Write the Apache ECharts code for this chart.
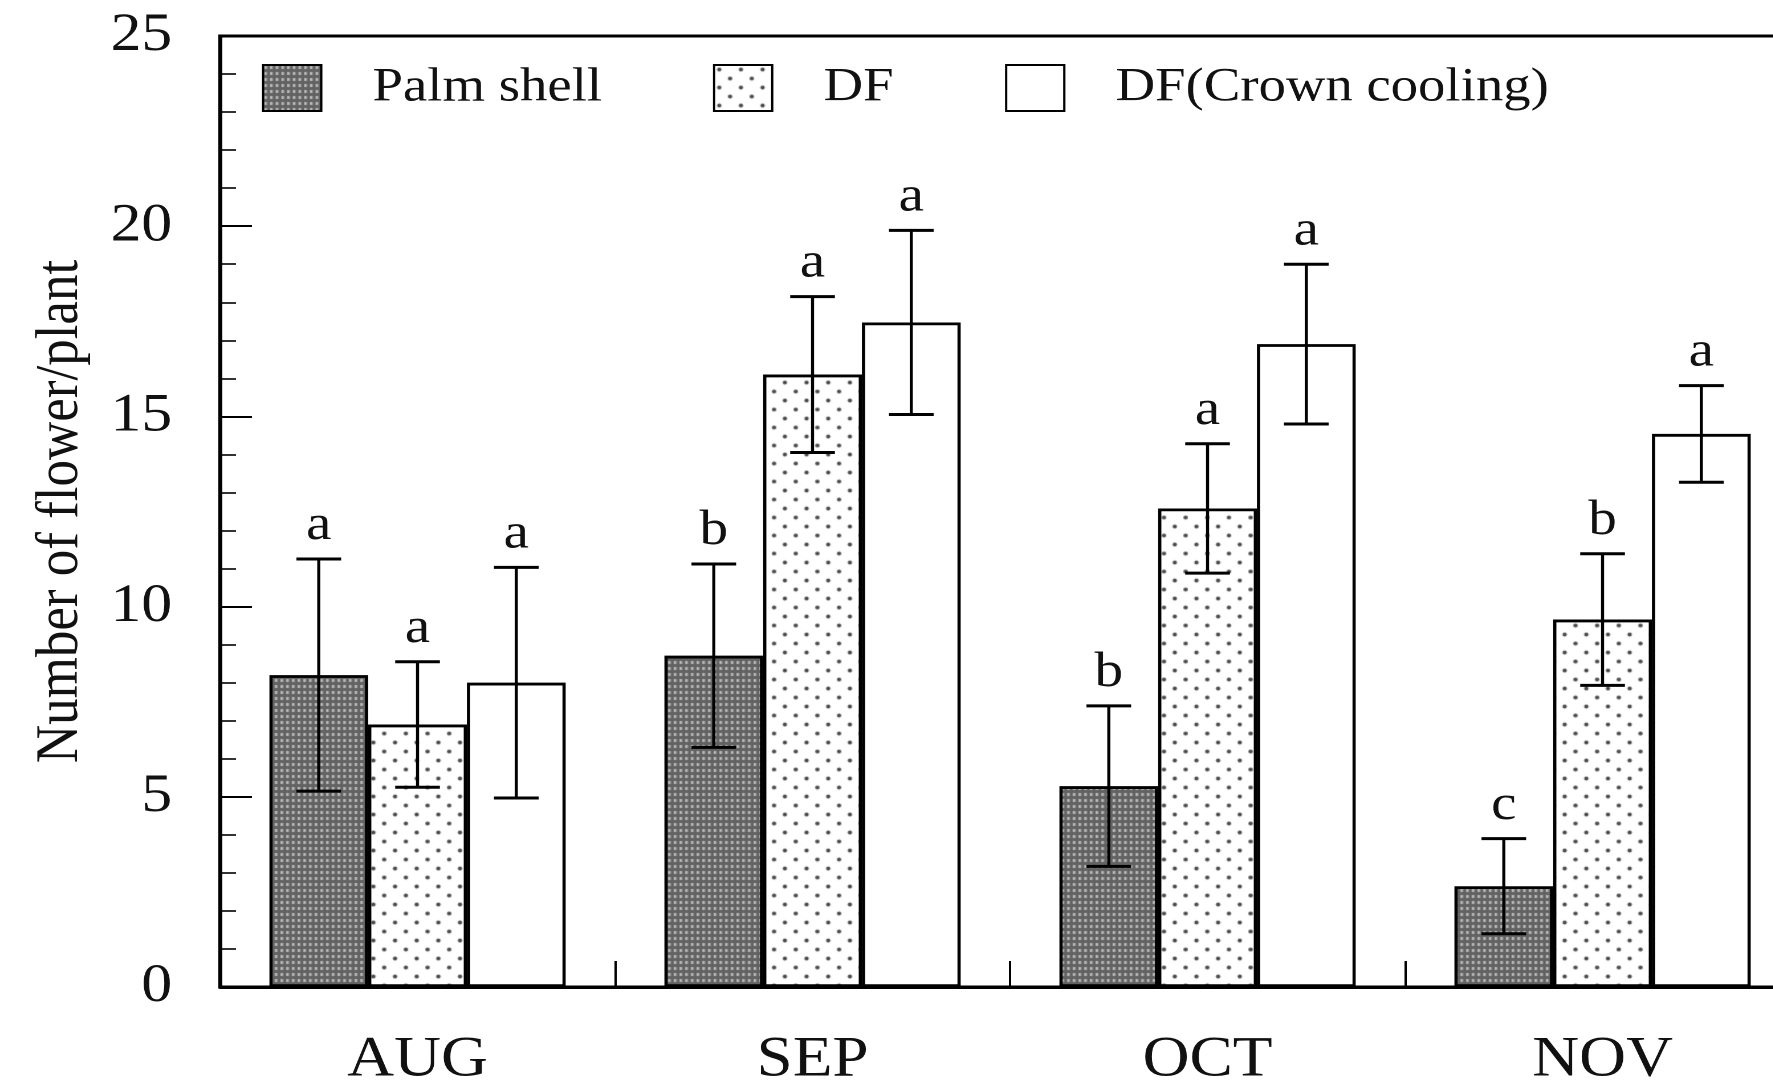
<!DOCTYPE html>
<html>
<head>
<meta charset="utf-8">
<script src="https://cdn.jsdelivr.net/npm/echarts@6/dist/echarts.min.js"></script>
<style>
html,body{margin:0;padding:0;background:#fff;}
#wrap{width:1773px;height:1082px;overflow:hidden;position:relative;background:#fff;}
#chart{width:1650px;height:1082px;transform:scaleX(1.14);transform-origin:0 0;}
</style>
</head>
<body>
<div id="wrap"><div id="chart"></div></div>
<script>
// ---- data ----
const months = ['AUG', 'SEP', 'OCT', 'NOV'];
const seriesNames = ['Palm shell', 'DF', 'DF(Crown cooling)'];
const palmMean = [8.2, 8.71, 5.28, 2.65];
const palmSD = [3.05, 2.41, 2.11, 1.25];
const palmLetters = ['a', 'b', 'b', 'c'];
const dfMean = [6.9, 16.1, 12.58, 9.66];
const dfSD = [1.65, 2.05, 1.7, 1.73];
const dfLetters = ['a', 'a', 'a', 'b'];
const crownMean = [8.0, 17.47, 16.9, 14.54];
const crownSD = [3.03, 2.42, 2.1, 1.27];
const crownLetters = ['a', 'a', 'a', 'a'];
const yTicks = [0, 5, 10, 15, 20, 25];

// ---- patterns ----
function palmPattern() {
  const c = document.createElement('canvas');
  c.width = 5; c.height = 6;
  const g = c.getContext('2d');
  g.fillStyle = '#626262'; g.fillRect(0, 0, 5, 6);
  g.fillStyle = '#b8b8b8'; g.fillRect(1, 1, 2.4, 3);
  return c;
}
function dotPattern() {
  const c = document.createElement('canvas');
  c.width = 19; c.height = 18;
  const g = c.getContext('2d');
  g.fillStyle = '#ffffff'; g.fillRect(0, 0, 19, 18);
  g.fillStyle = '#4a4a4a';
  g.beginPath(); g.arc(4.5, 4.5, 1.9, 0, Math.PI * 2); g.fill();
  g.beginPath(); g.arc(14, 13.5, 1.9, 0, Math.PI * 2); g.fill();
  return c;
}
const fills = [
  { image: palmPattern(), repeat: 'repeat' },
  { image: dotPattern(), repeat: 'repeat' },
  '#ffffff'
];
const means = [palmMean, dfMean, crownMean];
const sds = [palmSD, dfSD, crownSD];
const letters = [palmLetters, dfLetters, crownLetters];

const FONT = '"Liberation Serif", "Times New Roman", serif';
const chart = echarts.init(document.getElementById('chart'), null, { renderer: 'canvas', devicePixelRatio: 2 });

const barSeries = seriesNames.map((name, i) => ({
  name: name,
  type: 'bar',
  barGap: '0%',
  barCategoryGap: '25%',
  data: means[i],
  itemStyle: { color: fills[i], borderColor: '#000', borderWidth: 2.8 },
  z: 2
}));

const errSeries = seriesNames.map((name, i) => ({
  type: 'custom',
  name: name + ' err',
  z: 5,
  data: means[i].map((m, k) => [k, m, sds[i][k]]),
  renderItem: function (params, api) {
    const x = api.value(0), m = api.value(1), sd = api.value(2);
    const band = api.size([1, 0])[0];
    const cx = api.coord([x, m])[0] + (i - 1) * band * 0.25;
    const yt = api.coord([x, m + sd])[1];
    const yb = api.coord([x, m - sd])[1];
    const hw = 19.6;
    const st = { stroke: '#000', lineWidth: 3 };
    const stV = { stroke: '#000', lineWidth: 2.7 };
    return {
      type: 'group',
      children: [
        { type: 'line', shape: { x1: cx, y1: yt, x2: cx, y2: yb }, style: stV },
        { type: 'line', shape: { x1: cx - hw, y1: yt, x2: cx + hw, y2: yt }, style: st },
        { type: 'line', shape: { x1: cx - hw, y1: yb, x2: cx + hw, y2: yb }, style: st },
        { type: 'text', x: cx, y: yt - 8,
          style: { text: letters[i][params.dataIndex], fill: '#111', font: '50px ' + FONT,
                   align: 'center', verticalAlign: 'bottom' } }
      ]
    };
  }
}));

const legendLefts = [229.8, 625.4, 881.6];
const legends = seriesNames.map((name, i) => ({
  data: [name],
  left: legendLefts[i],
  top: 64,
  padding: 0,
  icon: 'rect',
  itemWidth: 51,
  itemHeight: 46,
  selectedMode: false,
  textStyle: { fontFamily: FONT, fontSize: 48, color: '#111', padding: [0, 0, 0, 40] }
}));

chart.setOption({
  animation: false,
  backgroundColor: '#fff',
  legend: legends,
  grid: { left: 193, top: 36, width: 1386, height: 951, outerBoundsMode: 'none', containLabel: false,
          show: true, borderColor: '#000', borderWidth: 3, backgroundColor: 'transparent' },
  xAxis: {
    type: 'category',
    data: months,
    axisLine: { lineStyle: { color: '#000', width: 3 } },
    axisTick: { show: true, inside: true, length: 26, lineStyle: { color: '#000', width: 2 } },
    axisLabel: { fontFamily: FONT, fontSize: 57, color: '#111', margin: 45 },
    splitLine: { show: false }
  },
  yAxis: {
    type: 'value',
    min: yTicks[0],
    max: yTicks[yTicks.length - 1],
    interval: 5,
    name: 'Number of flower/plant',
    nameLocation: 'middle',
    nameGap: 113,
    nameRotate: 90,
    nameTextStyle: { fontFamily: FONT, fontSize: 53, color: '#111' },
    axisLine: { show: true, lineStyle: { color: '#000', width: 3 } },
    axisTick: { show: true, inside: true, length: 28, lineStyle: { color: '#000', width: 2 } },
    minorTick: { show: true, splitNumber: 5, length: 14, lineStyle: { color: '#000', width: 1.6 } },
    axisLabel: { fontFamily: FONT, fontSize: 54, color: '#111', margin: 42 },
    splitLine: { show: false }
  },
  series: barSeries.concat(errSeries)
});
</script>
</body>
</html>
